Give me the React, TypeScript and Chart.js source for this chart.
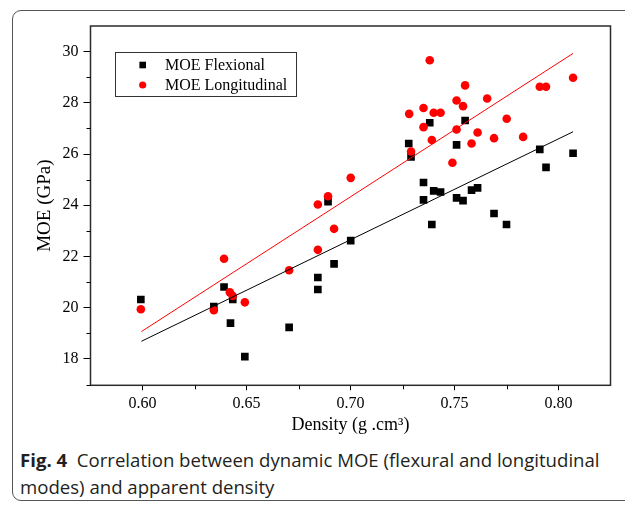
import React, { useEffect, useRef } from 'react';
import { Chart, registerables } from 'chart.js';

Chart.register(...registerables);

// ---- Data ----
const seriesLabels = ['MOE Flexional', 'MOE Longitudinal'];

const flexDensity = [
  0.5992, 0.6343, 0.6392, 0.6423, 0.6434, 0.6492, 0.6705, 0.6843, 0.6843, 0.6892,
  0.6921, 0.7001, 0.728, 0.7291, 0.7351, 0.7351, 0.7381, 0.7391, 0.74, 0.7433,
  0.751, 0.751, 0.7541, 0.7551, 0.7582, 0.7611, 0.769, 0.775, 0.791, 0.794, 0.807,
];
const flexMOE = [
  20.32, 20.04, 20.81, 19.4, 20.32, 18.09, 19.23, 21.18, 20.71, 24.14,
  21.71, 22.62, 26.41, 25.89, 24.89, 24.21, 27.22, 23.25, 24.56, 24.52,
  26.36, 24.29, 24.18, 27.31, 24.59, 24.68, 23.68, 23.25, 26.18, 25.48, 26.03,
];

const longDensity = [
  0.5992, 0.6343, 0.6392, 0.6420, 0.6434, 0.6492, 0.6705, 0.6843, 0.6843, 0.6892,
  0.6921, 0.7001, 0.7282, 0.7291, 0.7351, 0.7351, 0.7381, 0.7391, 0.74, 0.7433,
  0.751, 0.751, 0.749, 0.7541, 0.7551, 0.7582, 0.7611, 0.7657, 0.769, 0.7751,
  0.783, 0.791, 0.794, 0.807,
];
const longMOE = [
  19.94, 19.9, 21.91, 20.6, 20.46, 20.21, 21.46, 24.03, 22.26, 24.35,
  23.08, 25.07, 27.57, 26.1, 27.8, 27.05, 29.66, 26.55, 27.61, 27.61,
  28.09, 26.96, 25.66, 27.87, 28.68, 26.41, 26.84, 28.17, 26.62, 27.38,
  26.67, 28.63, 28.63, 28.98,
];

const fitDensity = [0.5995, 0.807];
const flexFitMOE = [18.69, 26.87];
const longFitMOE = [19.07, 29.93];

const xTickValues = [0.6, 0.65, 0.7, 0.75, 0.8];
const xMinorTicks = [0.625, 0.675, 0.725, 0.775];
const yTickValues = [18, 20, 22, 24, 26, 28, 30];
const yMinorTicks = [17, 19, 21, 23, 25, 27, 29];

const serif = "'Liberation Serif', 'Times New Roman', 'DejaVu Serif', serif";

const extrasPlugin = {
  id: 'extras',
  afterDraw(chart: any) {
    const ctx = chart.ctx;
    const { left, right, top, bottom } = chart.chartArea;
    const xs = chart.scales.x;
    const ys = chart.scales.y;
    ctx.save();
    // frame
    ctx.strokeStyle = '#2b2b2b';
    ctx.lineWidth = 1.5;
    ctx.strokeRect(left, top, right - left, bottom - top);
    // minor ticks
    ctx.strokeStyle = '#000';
    ctx.lineWidth = 1;
    ctx.beginPath();
    yMinorTicks.forEach((v) => {
      const y = Math.round(ys.getPixelForValue(v)) + 0.5;
      ctx.moveTo(left - 4, y);
      ctx.lineTo(left, y);
    });
    xMinorTicks.forEach((v) => {
      const x = Math.round(xs.getPixelForValue(v)) + 0.5;
      ctx.moveTo(x, bottom);
      ctx.lineTo(x, bottom + 4);
    });
    ctx.stroke();

    // legend box
    const lx = 115.5, ly = 52.5, lw = 181, lh = 44;
    ctx.strokeStyle = '#333';
    ctx.lineWidth = 1;
    ctx.strokeRect(lx, ly, lw, lh);
    const ds = chart.data.datasets;
    const rows = [65, 85];
    ctx.font = `16px ${serif}`;
    ctx.textBaseline = 'middle';
    ctx.textAlign = 'left';
    [0, 1].forEach((i) => {
      const d = ds[i];
      const cy = rows[i];
      const cx = 142.7;
      ctx.fillStyle = d.backgroundColor;
      if (d.pointStyle === 'rect') {
        ctx.fillRect(cx - 3.3, cy - 3.3, 6.6, 6.6);
      } else {
        ctx.beginPath();
        ctx.arc(cx, cy, 3.6, 0, Math.PI * 2);
        ctx.fill();
      }
      ctx.fillStyle = '#000';
      ctx.fillText(d.label, 165, cy + 1);
    });
    ctx.restore();
  },
};

export default function App() {
  const ref = useRef<HTMLCanvasElement | null>(null);

  useEffect(() => {
    const canvas = ref.current;
    if (!canvas) return;
    const font = { family: serif, size: 16 };
    const chart = new Chart(canvas, {
      type: 'scatter',
      data: {
        datasets: [
          {
            label: seriesLabels[0],
            data: flexDensity.map((x, i) => ({ x, y: flexMOE[i] })),
            pointStyle: 'rect',
            pointRadius: 5.4,
            backgroundColor: '#000000',
            borderColor: '#000000',
            borderWidth: 0,
            order: 2,
          } as any,
          {
            label: seriesLabels[1],
            data: longDensity.map((x, i) => ({ x, y: longMOE[i] })),
            pointStyle: 'circle',
            pointRadius: 4.3,
            backgroundColor: '#ff0000',
            borderColor: '#ff0000',
            borderWidth: 0,
            order: 1,
          } as any,
          {
            type: 'line',
            label: 'fit flexional',
            data: fitDensity.map((x, i) => ({ x, y: flexFitMOE[i] })),
            borderColor: '#000000',
            borderWidth: 1,
            pointRadius: 0,
            fill: false,
            order: 0,
          } as any,
          {
            type: 'line',
            label: 'fit longitudinal',
            data: fitDensity.map((x, i) => ({ x, y: longFitMOE[i] })),
            borderColor: '#ff0000',
            borderWidth: 1,
            pointRadius: 0,
            fill: false,
            order: 0,
          } as any,
        ],
      },
      options: {
        animation: false,
        responsive: false,
        maintainAspectRatio: false,
        layout: { padding: { left: 0, top: 26, right: 14.5, bottom: 0 } },
        plugins: { legend: { display: false }, tooltip: { enabled: false } },
        scales: {
          x: {
            type: 'linear',
            min: 0.575,
            max: 0.825,
            afterFit: (s: any) => {
              s.height = 54.7;
            },
            afterBuildTicks: (s: any) => {
              s.ticks = xTickValues.map((value) => ({ value }));
            },
            ticks: {
              font,
              color: '#000',
              padding: 4,
              maxRotation: 0,
              autoSkip: false,
              callback: (v: any) => Number(v).toFixed(2),
            },
            grid: { drawOnChartArea: false, drawTicks: true, tickLength: 5, tickColor: '#000', tickWidth: 1 },
            border: { display: false },
            title: {
              display: true,
              text: 'Density (g .cm³)',
              font: { family: serif, size: 18 },
              color: '#000',
              padding: { top: 0, bottom: 4 },
            },
          },
          y: {
            type: 'linear',
            min: 16.97,
            max: 31.0,
            afterFit: (s: any) => {
              s.width = 90.5;
            },
            afterBuildTicks: (s: any) => {
              s.ticks = yTickValues.map((value) => ({ value }));
            },
            ticks: {
              font,
              color: '#000',
              padding: 5,
              autoSkip: false,
              callback: (v: any) => String(v),
            },
            grid: { drawOnChartArea: false, drawTicks: true, tickLength: 7, tickColor: '#000', tickWidth: 1 },
            border: { display: false },
            title: {
              display: true,
              text: 'MOE (GPa)',
              font: { family: serif, size: 19 },
              color: '#000',
              padding: { top: 34, bottom: 0 },
            },
          },
        },
      } as any,
      plugins: [extrasPlugin],
    });
    return () => chart.destroy();
  }, []);

  return (
    <div
      style={{
        position: 'fixed',
        left: 0,
        top: 0,
        width: 625,
        height: 505,
        background: '#fff',
        overflow: 'hidden',
      }}
    >
      <div
        style={{
          position: 'absolute',
          left: 12,
          top: 10,
          width: 660,
          height: 491,
          border: '1px solid #555',
          borderRadius: 9,
          boxSizing: 'border-box',
        }}
      />
      <canvas
        ref={ref}
        width={625}
        height={440}
        style={{ position: 'absolute', left: 0, top: 0, width: 625, height: 440, display: 'block' }}
      />
      <div
        style={{
          position: 'absolute',
          left: 20,
          top: 446,
          width: 600,
          fontFamily: "'Open Sans', 'Noto Sans', sans-serif",
          fontSize: 18.6,
          lineHeight: '27px',
          color: '#231f20',
          whiteSpace: 'nowrap',
        }}
      >
        <div>
          <b>Fig. 4</b>&nbsp;&nbsp;Correlation between dynamic MOE (flexural and longitudinal
        </div>
        <div>modes) and apparent density</div>
      </div>
    </div>
  );
}
